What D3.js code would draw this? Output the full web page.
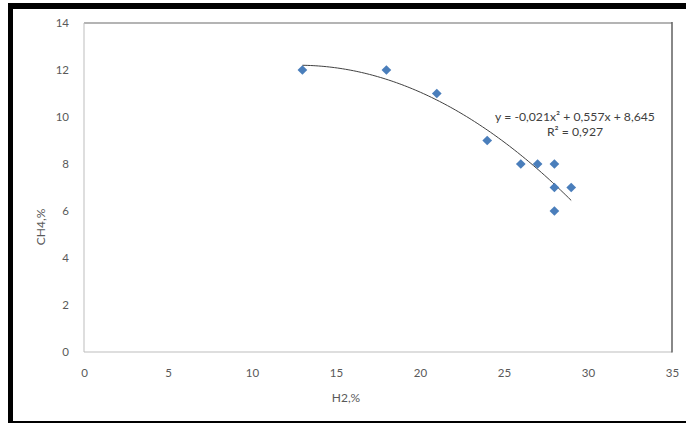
<!DOCTYPE html>
<html>
<head>
<meta charset="utf-8">
<script src="https://cdn.jsdelivr.net/npm/d3@7"></script>
<style>
  html, body { margin: 0; padding: 0; background: #fff; }
  text { font-family: Lato, "Open Sans", sans-serif; }
</style>
</head>
<body>
<svg id="chart" width="686" height="423"></svg>
<script>
// H2 (%) vs CH4 (%) measurements
const h2 = [13, 18, 21, 24, 26, 27, 28, 28, 28, 29];
const ch4 = [12, 12, 11, 9, 8, 8, 8, 7, 6, 7];

const xTicks = [0, 5, 10, 15, 20, 25, 30, 35];
const yTicks = [0, 2, 4, 6, 8, 10, 12, 14];

const xTitle = "H2,%";
const yTitle = "CH4,%";
const equationLines = ["y = -0,021x² + 0,557x + 8,645", "R² = 0,927"];

const W = 686, H = 423;
const plot = { left: 84, top: 23, right: 672, bottom: 352 };

const svg = d3.select("#chart");

// outer frame
svg.append("rect").attr("x", 0).attr("y", 0).attr("width", W).attr("height", H).attr("fill", "#fff");
svg.append("rect").attr("x", 8).attr("y", 3).attr("width", W - 8).attr("height", 6).attr("fill", "#000");
svg.append("rect").attr("x", 8).attr("y", 3).attr("width", 5).attr("height", H - 3).attr("fill", "#000");
svg.append("rect").attr("x", 8).attr("y", 421).attr("width", W - 8).attr("height", 2).attr("fill", "#000");

const x = d3.scaleLinear().domain([0, 35]).range([plot.left, plot.right]);
const y = d3.scaleLinear().domain([0, 14]).range([plot.bottom, plot.top]);

// plot area border: light on top/left/bottom, darker on the right
svg.append("line").attr("x1", plot.left).attr("x2", plot.right).attr("y1", plot.top).attr("y2", plot.top)
  .attr("stroke", "#b4b4b4").attr("stroke-width", 2);
svg.append("line").attr("x1", plot.left).attr("x2", plot.left).attr("y1", plot.top).attr("y2", plot.bottom)
  .attr("stroke", "#bdbdbd").attr("stroke-width", 1);
svg.append("line").attr("x1", plot.left).attr("x2", plot.right).attr("y1", plot.bottom).attr("y2", plot.bottom)
  .attr("stroke", "#bdbdbd").attr("stroke-width", 1);
svg.append("line").attr("x1", plot.right).attr("x2", plot.right).attr("y1", plot.top - 1).attr("y2", plot.bottom + 0.5)
  .attr("stroke", "#606060").attr("stroke-width", 1.5);

// axes (labels only, no lines or ticks)
const xAxis = svg.append("g").attr("transform", `translate(0,${plot.bottom + 14})`)
  .call(d3.axisBottom(x).tickValues(xTicks).tickSize(0).tickFormat(d3.format("d")));
const yAxis = svg.append("g").attr("transform", `translate(${plot.left - 12},0)`)
  .call(d3.axisLeft(y).tickValues(yTicks).tickSize(0).tickFormat(d3.format("d")));
[xAxis, yAxis].forEach(g => {
  g.select(".domain").remove();
  g.selectAll("text").attr("fill", "#595959").style("font-size", "11.5px")
    .style("font-family", "Lato, 'Open Sans', sans-serif");
});

// axis titles
svg.append("text").attr("x", 346).attr("y", 402).attr("text-anchor", "middle")
  .attr("fill", "#595959").style("font-size", "12px").text(xTitle);
svg.append("text").attr("transform", "translate(45,227) rotate(-90)").attr("text-anchor", "middle")
  .attr("fill", "#595959").style("font-size", "12px").text(yTitle);

// second-order polynomial trendline, least squares fit of the data
function polyFit2(xs, ys) {
  const n = xs.length;
  const S = k => d3.sum(xs, v => Math.pow(v, k));
  const T = k => d3.sum(xs.map((v, i) => Math.pow(v, k) * ys[i]));
  const A = [[n, S(1), S(2)], [S(1), S(2), S(3)], [S(2), S(3), S(4)]];
  const B = [T(0), T(1), T(2)];
  // gaussian elimination
  for (let i = 0; i < 3; i++) {
    for (let j = i + 1; j < 3; j++) {
      const f = A[j][i] / A[i][i];
      for (let k = i; k < 3; k++) A[j][k] -= f * A[i][k];
      B[j] -= f * B[i];
    }
  }
  const c = [0, 0, 0];
  for (let i = 2; i >= 0; i--) {
    let s = B[i];
    for (let k = i + 1; k < 3; k++) s -= A[i][k] * c[k];
    c[i] = s / A[i][i];
  }
  return c; // [c0, c1, c2]
}
const coef = polyFit2(h2, ch4);
const [xmin, xmax] = d3.extent(h2);
const curve = d3.range(0, 101).map(i => {
  const xv = xmin + (xmax - xmin) * i / 100;
  return [xv, coef[0] + coef[1] * xv + coef[2] * xv * xv];
});
svg.append("path").datum(curve)
  .attr("d", d3.line().x(d => x(d[0])).y(d => y(d[1])))
  .attr("fill", "none").attr("stroke", "#404040").attr("stroke-width", 1);

// markers
const diamond = d3.symbol().type(d3.symbolDiamond2).size(60);
svg.append("g").selectAll("path").data(h2.map((v, i) => [v, ch4[i]])).join("path")
  .attr("d", diamond)
  .attr("transform", d => `translate(${x(d[0])},${y(d[1])})`)
  .attr("fill", "#4a7ebb");

// trendline equation
const eq = svg.append("text").attr("text-anchor", "middle").attr("fill", "#404040")
  .style("font-size", "12.2px");
equationLines.forEach((t, i) => {
  eq.append("tspan").attr("x", 575).attr("y", 121 + i * 15).text(t);
});
</script>
</body>
</html>
